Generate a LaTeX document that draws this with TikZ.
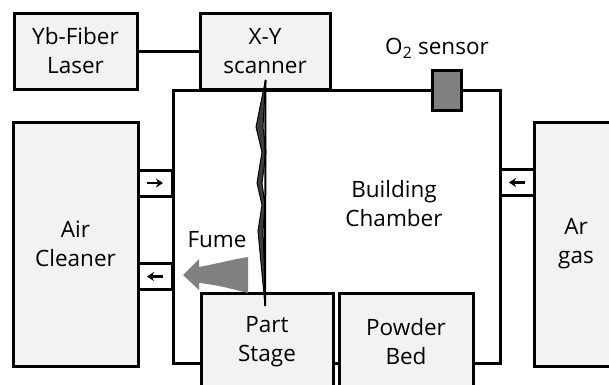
\documentclass[tikz,border=0pt]{standalone}
\usepackage{fontspec}
\setmainfont{Open Sans}
\usetikzlibrary{arrows.meta}
\definecolor{boxfill}{RGB}{242,242,242}
\definecolor{sensorfill}{RGB}{128,128,128}
\definecolor{fumefill}{RGB}{128,128,128}
\definecolor{beamfill}{RGB}{60,60,60}
\begin{document}
\begin{tikzpicture}[x=1pt,y=-1pt,line width=3pt,
  box/.style={draw,fill=boxfill,align=center,inner sep=0pt,font=\fontsize{22.5}{29}\selectfont},
  label/.style={align=center,inner sep=0pt,font=\fontsize{22.5}{29}\selectfont},
  duct/.style={draw,fill=white,inner sep=0pt,minimum width=34pt,minimum height=26pt},
  flow/.style={-{Stealth[length=7pt,width=9pt]},line width=2.5pt}]
\useasboundingbox (0,0) rectangle (609,384);
\clip (0,0) rectangle (609,384);
% chamber
\node[draw,fill=white,inner sep=0pt,minimum width=327pt,minimum height=273pt] (chamber) at (336.5,226.5) {};
\node[label] (chlabel) at (394,204) {Building\\Chamber};
% top boxes
\node[box,minimum width=123pt,minimum height=76pt] (laser) at (75.5,51) {Yb-Fiber\\Laser};
\node[box,minimum width=130pt,minimum height=76pt] (scanner) at (265,51) {X-Y\\scanner};
\draw (laser.east) -- (scanner.west);
% O2 sensor
\node[draw,fill=sensorfill,inner sep=0pt,minimum width=29pt,minimum height=40pt] (sensor) at (446.5,90) {};
\node[label] (sensorlabel) at (437,48) {O\textsubscript{2} sensor};
% side boxes
\node[box,minimum width=125pt,minimum height=244pt] (cleaner) at (75.5,244) {Air\\Cleaner};
\node[box,minimum width=84pt,minimum height=244pt] (argas) at (576,244) {Ar\\gas};
% ducts
\node[duct] (d1) at (155,183) {};
\node[duct] (d2) at (155,276.5) {};
\node[duct] (d3) at (517,182.5) {};
\draw[flow] ([xshift=-8pt]d1.center) -- ([xshift=8pt]d1.center);
\draw[flow] ([xshift=8pt]d2.center) -- ([xshift=-8pt]d2.center);
\draw[flow] ([xshift=8pt]d3.center) -- ([xshift=-8pt]d3.center);
% bottom boxes
\node[box,minimum width=132pt,minimum height=97pt] (stage) at (267,341.5) {Part\\Stage};
\node[box,minimum width=134pt,minimum height=97pt] (bed) at (406,341.5) {Powder\\Bed};
% fume
\node[label] (fume) at (217,240) {Fume};
\fill[fumefill] (183,275) -- (199,259) -- (199,267) .. controls (220,263) and (235,259) .. (248,257)
  -- (248,293) .. controls (235,290) and (220,285) .. (199,283) -- (199,290) -- cycle;
% laser beam
\coordinate (beamtop) at (265.5,80);
\coordinate (beambot) at (265,306);
\filldraw[fill=beamfill,line width=1pt,line join=round] (beamtop) -- (256,127) -- (262,152) -- (257,183) -- (262,205) -- (258,231) -- (264.5,300)
  -- (265.5,300) -- (263,231) -- (265,205) -- (262,183) -- (266,152) -- (263,127) -- cycle;
\draw[line width=2pt] (beamtop) -- (beambot);
\end{tikzpicture}
\end{document}
